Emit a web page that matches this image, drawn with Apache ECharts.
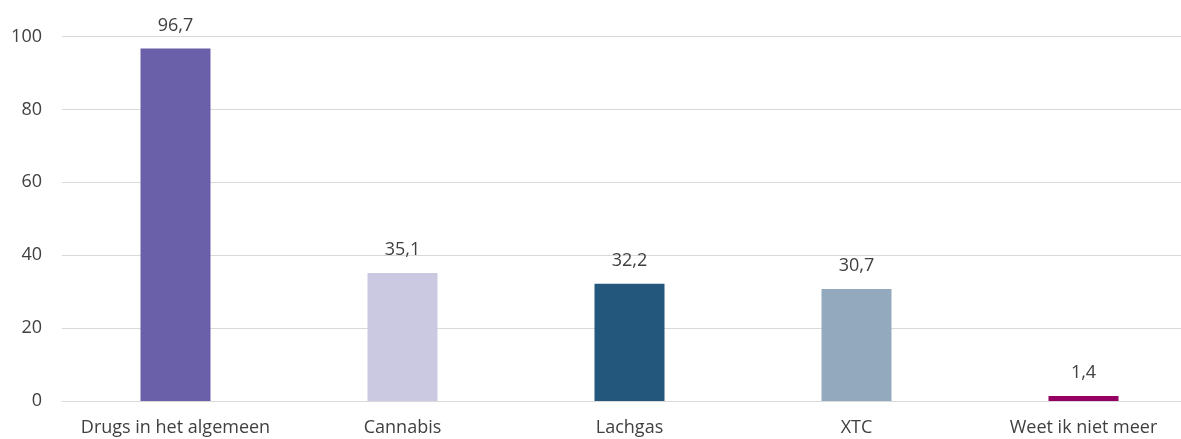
<!DOCTYPE html>
<html><head><meta charset="utf-8">
<script src="https://cdn.jsdelivr.net/npm/echarts@6/dist/echarts.min.js"></script>
<style>html,body{margin:0;padding:0;background:#fff;overflow:hidden}#c{width:1181px;height:439px}</style>
</head><body><div id="c"></div>
<script>
const categories = ["Drugs in het algemeen", "Cannabis", "Lachgas", "XTC", "Weet ik niet meer"];
const values = [96.7, 35.1, 32.2, 30.7, 1.4];
const colors = ["#6A60A9", "#CBC9E2", "#24577C", "#93A9BE", "#950062"];
const yTicks = [0, 20, 40, 60, 80, 100];

const font = "'Open Sans', sans-serif";
const chart = echarts.init(document.getElementById('c'));
chart.setOption({
  animation: false,
  grid: { left: 62, width: 1135, top: 36.5, bottom: 38, containLabel: false, outerBoundsMode: 'none' },
  xAxis: {
    type: 'category', data: categories,
    axisLine: { lineStyle: { color: '#d9d9d9', width: 1 } },
    axisTick: { show: false },
    axisLabel: { color: '#404040', fontSize: 18, fontFamily: font, margin: 18, interval: 0 }
  },
  yAxis: {
    type: 'value', min: yTicks[0], max: yTicks[yTicks.length - 1], interval: 20,
    axisLine: { show: false }, axisTick: { show: false },
    axisLabel: { color: '#404040', fontSize: 18, fontFamily: font, margin: 20 },
    splitLine: { lineStyle: { color: '#d9d9d9', width: 1 } }
  },
  series: [{
    type: 'bar', barWidth: 70,
    data: values.map((v, i) => ({ value: v, itemStyle: { color: colors[i] } })),
    label: {
      show: true, position: 'top', distance: 14, color: '#404040', fontSize: 18, fontFamily: font,
      formatter: p => String(p.value).replace('.', ',')
    }
  }]
});
</script></body></html>
